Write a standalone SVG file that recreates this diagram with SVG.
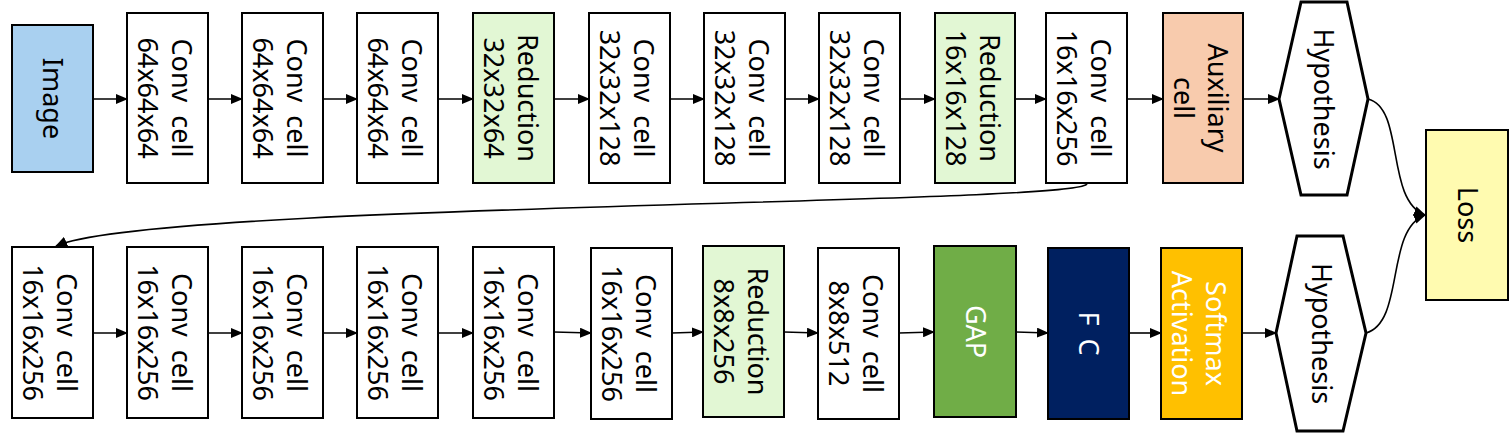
<svg xmlns="http://www.w3.org/2000/svg" width="1509" height="433" viewBox="0 0 1509 433">
<style>
.b{stroke:#000;stroke-width:2}
.h{fill:#fff;stroke:#000;stroke-width:3;stroke-linejoin:miter}
.t{font-family:"Noto Sans","Open Sans",sans-serif;font-size:27px;text-anchor:middle;fill:#000;word-spacing:6px}
.w{fill:#fff}
.c{fill:none;stroke:#000;stroke-width:1.6}
</style>
<defs>
<marker id="a" markerWidth="12" markerHeight="10" refX="11" refY="5" orient="auto" markerUnits="userSpaceOnUse"><path d="M0,0 L12,5 L0,10 z" fill="#000"/></marker>
</defs>
<rect width="1509" height="433" fill="#fff"/>
<g id="connectors">
<g class="c" marker-end="url(#a)">
<path d="M93,99 H127"/><path d="M208,99 H242"/><path d="M323,99 H357"/><path d="M438,99 H473"/><path d="M554,99 H589"/><path d="M670,99 H704"/><path d="M785,99 H819"/><path d="M900,99 H935"/><path d="M1015,99 H1046"/><path d="M1127,99 H1163"/><path d="M1243,99 H1279"/>
<path d="M93,333 H127"/><path d="M208,333 H242"/><path d="M323,333 H357"/><path d="M438,333 H473"/><path d="M554,332 L591,333"/><path d="M672,333 L703,332"/><path d="M784,332 L818,333"/><path d="M899,333 L934,332"/><path d="M1016,332 L1048,333"/><path d="M1129,333 H1161"/><path d="M1242,333 H1276"/>
<path d="M1087,184 C1075,205 150,203 56,246"/>
<path d="M1368,99 C1405,108 1385,200 1425,215"/>
<path d="M1366,333 C1405,322 1385,230 1425,215"/>
</g>
</g>
<g id="image"><rect class="b" x="12" y="25" width="81" height="147" fill="#a9d0f0"/><text class="t" transform="translate(52.5,98.5) rotate(90)" y="9.5">Image</text></g>
<g id="c1"><rect class="b" x="127" y="13" width="81" height="170" fill="#fff"/><text class="t" transform="translate(167.5,98) rotate(90)"><tspan x="0" y="-4.5">Conv cell</tspan><tspan x="0" y="29.5">64x64x64</tspan></text></g>
<g id="c2"><rect class="b" x="242" y="13" width="81" height="170" fill="#fff"/><text class="t" transform="translate(282.5,98) rotate(90)"><tspan x="0" y="-4.5">Conv cell</tspan><tspan x="0" y="29.5">64x64x64</tspan></text></g>
<g id="c3"><rect class="b" x="357" y="13" width="81" height="170" fill="#fff"/><text class="t" transform="translate(397.5,98) rotate(90)"><tspan x="0" y="-4.5">Conv cell</tspan><tspan x="0" y="29.5">64x64x64</tspan></text></g>
<g id="r1"><rect class="b" x="473" y="13" width="81" height="170" fill="#e2f7d4"/><text class="t" transform="translate(513.5,98) rotate(90)"><tspan x="0" y="-4.5">Reduction</tspan><tspan x="0" y="29.5">32x32x64</tspan></text></g>
<g id="c4"><rect class="b" x="589" y="13" width="81" height="170" fill="#fff"/><text class="t" transform="translate(629.5,98) rotate(90)"><tspan x="0" y="-4.5">Conv cell</tspan><tspan x="0" y="29.5">32x32x128</tspan></text></g>
<g id="c5"><rect class="b" x="704" y="13" width="81" height="170" fill="#fff"/><text class="t" transform="translate(744.5,98) rotate(90)"><tspan x="0" y="-4.5">Conv cell</tspan><tspan x="0" y="29.5">32x32x128</tspan></text></g>
<g id="c6"><rect class="b" x="819" y="13" width="81" height="170" fill="#fff"/><text class="t" transform="translate(859.5,98) rotate(90)"><tspan x="0" y="-4.5">Conv cell</tspan><tspan x="0" y="29.5">32x32x128</tspan></text></g>
<g id="r2"><rect class="b" x="935" y="13" width="80" height="170" fill="#e2f7d4"/><text class="t" transform="translate(975,98) rotate(90)"><tspan x="0" y="-4.5">Reduction</tspan><tspan x="0" y="29.5">16x16x128</tspan></text></g>
<g id="c7"><rect class="b" x="1046" y="13" width="81" height="170" fill="#fff"/><text class="t" transform="translate(1086.5,98) rotate(90)"><tspan x="0" y="-4.5">Conv cell</tspan><tspan x="0" y="29.5">16x16x256</tspan></text></g>
<g id="aux"><rect class="b" x="1163" y="13" width="80" height="170" fill="#f8cbad"/><text class="t" transform="translate(1203,98) rotate(90)"><tspan x="0" y="-4.5">Auxiliary</tspan><tspan x="0" y="29.5">cell</tspan></text></g>
<g id="hyp1"><polygon class="h" points="1279,99 1301,2 1347,2 1368,99 1347,195 1301,195"/><text class="t" transform="translate(1323.5,99) rotate(90)" y="9.5">Hypothesis</text></g>
<g id="loss"><rect class="b" x="1426" y="130" width="82" height="170" fill="#fffbb0"/><text class="t" transform="translate(1467,215) rotate(90)" y="9.5">Loss</text></g>
<g id="d1"><rect class="b" x="12" y="247" width="81" height="171" fill="#fff"/><text class="t" transform="translate(52.5,332.5) rotate(90)"><tspan x="0" y="-4.5">Conv cell</tspan><tspan x="0" y="29.5">16x16x256</tspan></text></g>
<g id="d2"><rect class="b" x="127" y="247" width="81" height="171" fill="#fff"/><text class="t" transform="translate(167.5,332.5) rotate(90)"><tspan x="0" y="-4.5">Conv cell</tspan><tspan x="0" y="29.5">16x16x256</tspan></text></g>
<g id="d3"><rect class="b" x="242" y="247" width="81" height="171" fill="#fff"/><text class="t" transform="translate(282.5,332.5) rotate(90)"><tspan x="0" y="-4.5">Conv cell</tspan><tspan x="0" y="29.5">16x16x256</tspan></text></g>
<g id="d4"><rect class="b" x="357" y="247" width="81" height="171" fill="#fff"/><text class="t" transform="translate(397.5,332.5) rotate(90)"><tspan x="0" y="-4.5">Conv cell</tspan><tspan x="0" y="29.5">16x16x256</tspan></text></g>
<g id="d5"><rect class="b" x="473" y="247" width="81" height="171" fill="#fff"/><text class="t" transform="translate(513.5,332.5) rotate(90)"><tspan x="0" y="-4.5">Conv cell</tspan><tspan x="0" y="29.5">16x16x256</tspan></text></g>
<g id="d6"><rect class="b" x="591" y="248" width="81" height="171" fill="#fff"/><text class="t" transform="translate(631.5,333.5) rotate(90)"><tspan x="0" y="-4.5">Conv cell</tspan><tspan x="0" y="29.5">16x16x256</tspan></text></g>
<g id="r3"><rect class="b" x="703" y="246" width="81" height="171" fill="#e2f7d4"/><text class="t" transform="translate(743.5,331.5) rotate(90)"><tspan x="0" y="-4.5">Reduction</tspan><tspan x="0" y="29.5">8x8x256</tspan></text></g>
<g id="d7"><rect class="b" x="818" y="248" width="81" height="171" fill="#fff"/><text class="t" transform="translate(858.5,333.5) rotate(90)"><tspan x="0" y="-4.5">Conv cell</tspan><tspan x="0" y="29.5">8x8x512</tspan></text></g>
<g id="gap"><rect class="b" x="934" y="246" width="82" height="171" fill="#70ad47"/><text class="t w" transform="translate(975,331.5) rotate(90)" y="9.5">GAP</text></g>
<g id="fc"><rect class="b" x="1048" y="248" width="81" height="171" fill="#002060"/><text class="t w" transform="translate(1088.5,333.5) rotate(90)" y="9.5">F C</text></g>
<g id="softmax"><rect class="b" x="1161" y="248" width="81" height="171" fill="#ffc000"/><text class="t w" transform="translate(1201.5,333.5) rotate(90)"><tspan x="0" y="-4.5">Softmax</tspan><tspan x="0" y="29.5">Activation</tspan></text></g>
<g id="hyp2"><polygon class="h" points="1276,333 1297,236 1343,236 1366,333 1343,431 1297,431"/><text class="t" transform="translate(1321,333.5) rotate(90)" y="9.5">Hypothesis</text></g>
</svg>
